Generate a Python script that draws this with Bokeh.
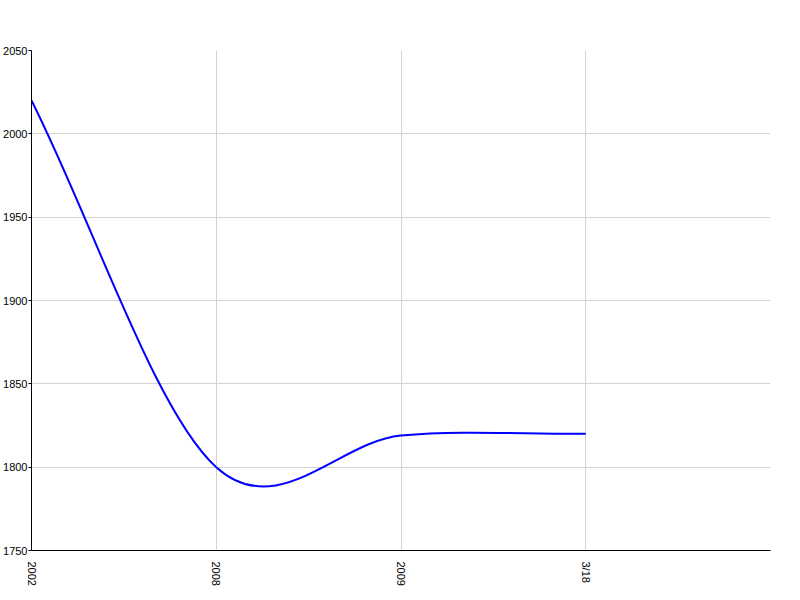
import math
from bokeh.plotting import figure
from bokeh.models import FixedTicker, Range1d
from bokeh.embed import file_html
from bokeh.resources import INLINE

categories = ["2002", "2008", "2009", "3/18"]
values = [2020, 1800, 1819, 1820]
y_ticks = [1750, 1800, 1850, 1900, 1950, 2000, 2050]

n = len(values)
xs = list(range(n))
# Catmull-Rom tangents -> cubic Bezier segments (smooth line rendering)
tang = []
for i in range(n):
    if i == 0:
        tang.append(values[1] - values[0])
    elif i == n - 1:
        tang.append(values[-1] - values[-2])
    else:
        tang.append((values[i + 1] - values[i - 1]) / 2)
x0 = xs[:-1]
x1 = xs[1:]
y0 = values[:-1]
y1 = values[1:]
cx0 = [x + 1 / 3 for x in x0]
cx1 = [x - 1 / 3 for x in x1]
cy0 = [values[i] + tang[i] / 3 for i in range(n - 1)]
cy1 = [values[i + 1] - tang[i + 1] / 3 for i in range(n - 1)]

p = figure(width=795, height=595, output_backend="svg", toolbar_location=None,
           x_range=Range1d(0, n), y_range=Range1d(1750, 2050),
           min_border_top=50, min_border_bottom=45, min_border_right=25, min_border_left=0)
p.outline_line_color = None
p.background_fill_color = "white"

p.bezier(x0=x0, y0=y0, x1=x1, y1=y1, cx0=cx0, cy0=cy0, cx1=cx1, cy1=cy1,
         line_color="#0000ff", line_width=2)

p.xaxis.ticker = FixedTicker(ticks=xs)
p.xaxis.major_label_overrides = {i: c for i, c in enumerate(categories)}
p.xaxis.major_label_orientation = -math.pi / 2
p.xaxis.major_tick_line_color = None
p.xaxis.minor_tick_line_color = None
p.yaxis.ticker = FixedTicker(ticks=y_ticks)
p.yaxis.major_tick_out = 3
p.yaxis.major_tick_in = 0
p.yaxis.minor_tick_line_color = None
for ax in (p.xaxis, p.yaxis):
    ax.axis_line_color = "black"
    ax.major_label_text_font = "Liberation Sans"
    ax.major_label_text_font_size = "11px"
    ax.major_label_text_color = "black"
p.xaxis.major_label_standoff = 5
p.yaxis.major_label_standoff = 1

p.xgrid.ticker = FixedTicker(ticks=xs)
p.ygrid.ticker = FixedTicker(ticks=y_ticks)
p.grid.grid_line_color = "#d3d3d3"
p.grid.grid_line_width = 1

open("out.html", "w").write(file_html(p, INLINE))
